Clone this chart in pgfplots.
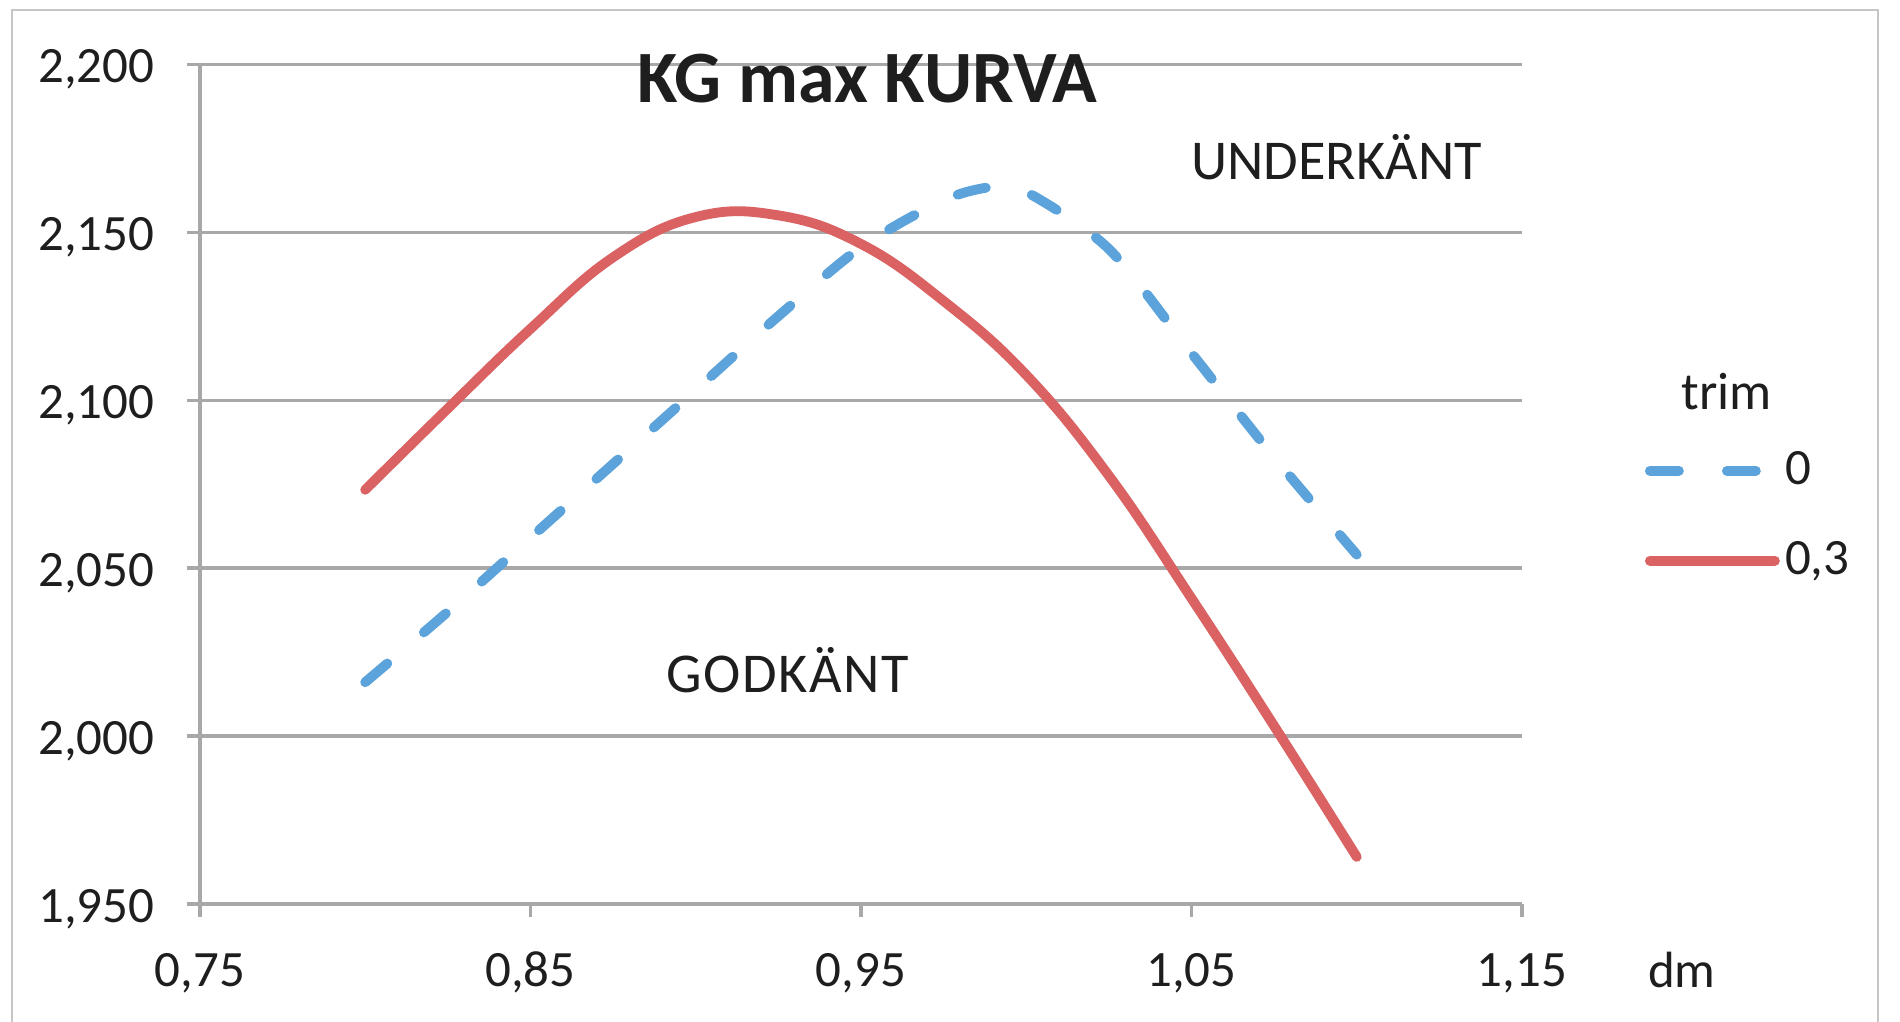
\documentclass[border=0pt]{standalone}
\usepackage{fontspec}
\setmainfont{Carlito}
\usepackage{pgfplots}
\pgfplotsset{compat=1.18}
\definecolor{gridgray}{RGB}{168,168,168}
\definecolor{bluel}{RGB}{92,163,219}
\definecolor{redl}{RGB}{218,98,98}
\definecolor{txt}{RGB}{30,30,30}
\begin{document}
\begin{tikzpicture}
\useasboundingbox (-1.9993cm,-1.1753cm) rectangle (17.0cm,9.039cm);
\begin{axis}[
  scale only axis, width=13.22cm, height=8.397cm,
  xmin=0.75, xmax=1.15, ymin=1.95, ymax=2.2,
  xtick={0.75,0.85,0.95,1.05,1.15},
  ytick={1.95,2.0,2.05,2.1,2.15,2.2},
  axis lines*=left,
  axis line style={draw=gridgray, line width=0.9pt, -},
  tick align=outside, major tick length=0.13cm,
  tick style={draw=gridgray, line width=0.9pt},
  ymajorgrids, grid style={draw=gridgray, line width=0.9pt},
  clip=false,
  /pgf/number format/assume math mode=true,
  /pgf/number format/use comma,
  /pgf/number format/fixed,
  /pgf/number format/fixed zerofill,
  xticklabel style={/pgf/number format/precision=2, anchor=base, yshift=-0.70cm, inner sep=0pt, font=\fontsize{14.5}{17}\selectfont, text=txt},
  yticklabel style={/pgf/number format/precision=3, anchor=base east, xshift=-0.32cm, yshift=-0.182cm, inner sep=0pt, font=\fontsize{14.5}{17}\selectfont, text=txt},
  legend image code/.code={\draw[#1] (0cm,0cm) -- (1.25cm,0cm);},
  legend cell align=left,
  legend style={draw=none, fill=none, at={(axis cs:1.187,2.0656)}, anchor=west,
    inner sep=0pt, row sep=0.41cm,
    nodes={inner sep=1.5pt, font=\fontsize{14.5}{17}\selectfont, text=txt}},
]
\addplot[bluel, line width=2.8pt, line cap=round, dash pattern=on 0.29cm off 0.48cm, smooth, tension=0.5] coordinates {
 (0.8,2.016) (0.825,2.037) (0.85,2.059) (0.875,2.081) (0.9,2.103) (0.925,2.125)
 (0.95,2.1455) (0.975,2.1595) (0.99,2.1635) (1.0,2.162) (1.025,2.145) (1.05,2.114)
 (1.075,2.083) (1.1,2.054)};
\addlegendentry{0}
\addplot[redl, line width=2.8pt, line cap=round, smooth, tension=0.7] coordinates {
 (0.8,2.0733) (0.825,2.0975) (0.85,2.1212) (0.875,2.1425) (0.9,2.1545)
 (0.925,2.1550) (0.95,2.1465) (0.975,2.1295) (1.0,2.1075) (1.025,2.0775) (1.05,2.041)
 (1.075,2.003) (1.1,1.964)};
\addlegendentry{0,3}
\node[font=\fontsize{21}{25}\selectfont\bfseries, text=txt] at (axis cs:0.952,2.1957) {KG max KURVA};
\node[font=\fontsize{16}{19}\selectfont, text=txt] at (axis cs:1.0939,2.1722) {UNDERKÄNT};
\node[font=\fontsize{16}{19}\selectfont\addfontfeature{LetterSpace=3}, text=txt] at (axis cs:0.9278,2.0196) {GODKÄNT};
\node[font=\fontsize{15}{18}\selectfont, text=txt] at (axis cs:1.212,2.1026) {trim};
\node[font=\fontsize{14.5}{17}\selectfont, text=txt, anchor=base, inner sep=0pt] at (axis cs:1.1984,1.9251) {dm};
\draw[gray!45, line width=0.6pt] (axis cs:0.6932,1.88) -- (axis cs:0.6932,2.2162) -- (axis cs:1.2578,2.2162) -- (axis cs:1.2578,1.88);
\end{axis}
\end{tikzpicture}
\end{document}
